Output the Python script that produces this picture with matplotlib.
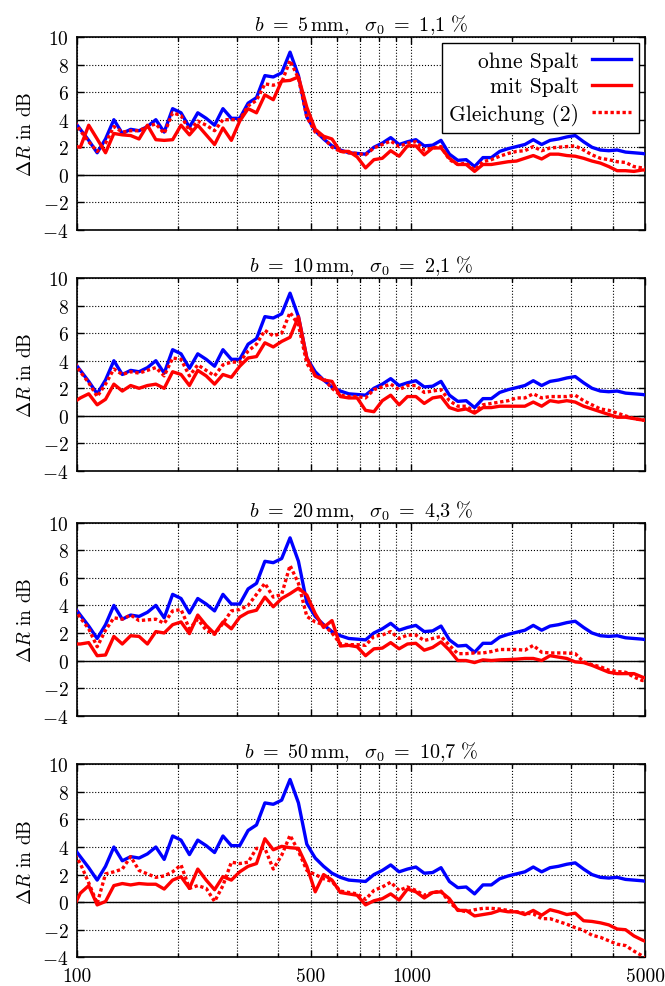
import numpy as np
import matplotlib
matplotlib.use('Agg')
import matplotlib.pyplot as plt
from matplotlib.ticker import FixedLocator, NullFormatter, FixedFormatter

plt.rcParams['font.family'] = 'serif'
plt.rcParams['font.serif'] = ['cmr10']
plt.rcParams['mathtext.fontset'] = 'cm'
plt.rcParams['axes.formatter.use_mathtext'] = True
plt.rcParams['font.size'] = 14

# 1/12-octave frequencies (Hz)
freq = [96.6, 102.3, 108.4, 114.9, 121.7, 128.9, 136.6, 144.7, 153.3, 162.4,
        172.1, 182.3, 193.2, 204.7, 216.9, 229.7, 243.4, 257.9, 273.2, 289.5,
        306.7, 324.9, 344.2, 364.7, 386.4, 409.4, 433.7, 459.5, 486.8, 515.8,
        546.4, 578.9, 613.3, 649.8, 688.4, 729.4, 772.8, 818.7, 867.4, 919.0,
        973.6, 1031.5, 1092.8, 1157.8, 1226.7, 1299.6, 1376.9, 1458.7, 1545.5, 1637.4,
        1734.8, 1837.9, 1947.2, 2063.0, 2185.7, 2315.6, 2453.3, 2599.2, 2753.8, 2917.5,
        3091.0, 3274.8, 3469.5, 3675.9, 3894.5, 4126.1, 4371.4, 4631.4, 4906.8, 5198.6]

ohne = [4.1, 3.3, 2.5, 1.6, 2.6, 4.0, 3.0, 3.3, 3.2, 3.5,
        4.0, 3.1, 4.8, 4.5, 3.45, 4.5, 4.1, 3.6, 4.8, 4.1,
        4.1, 5.2, 5.6, 7.2, 7.1, 7.4, 8.9, 7.2, 4.2, 3.2,
        2.6, 2.1, 1.8, 1.6, 1.55, 1.5, 2.0, 2.3, 2.7, 2.2,
        2.4, 2.55, 2.1, 2.15, 2.5, 1.5, 1.05, 1.1, 0.6, 1.25,
        1.25, 1.7, 1.9, 2.05, 2.2, 2.55, 2.2, 2.5, 2.6, 2.75,
        2.85, 2.4, 2.0, 1.8, 1.75, 1.8, 1.65, 1.6, 1.55, 1.45]

mit_5 = [2.1, 2.0, 3.6, 2.6, 1.6, 3.0, 2.9, 2.85, 2.6, 3.6,
         2.55, 2.5, 2.55, 3.6, 2.9, 3.6, 2.9, 2.2, 3.4, 2.5,
         3.9, 4.8, 4.5, 5.8, 5.45, 6.8, 6.85, 7.1, 4.9, 3.3,
         2.8, 2.6, 1.7, 1.7, 1.3, 0.5, 1.1, 1.2, 1.75, 1.35,
         2.1, 2.1, 1.45, 1.95, 1.95, 1.2, 0.75, 0.75, 0.25, 0.75,
         0.75, 0.85, 0.95, 1.0, 1.2, 1.4, 1.15, 1.5, 1.5, 1.4,
         1.35, 1.2, 1.0, 0.85, 0.6, 0.3, 0.3, 0.25, 0.35, 0.35]
gl_5 = [4.2, 3.2, 2.4, 1.7, 2.3, 3.5, 3.1, 3.2, 3.2, 3.5,
        3.7, 3.0, 4.5, 4.3, 3.2, 3.9, 3.6, 3.2, 4.0, 4.0,
        4.0, 5.0, 5.4, 6.6, 6.5, 6.7, 8.3, 7.0, 4.2, 3.1,
        2.7, 2.0, 1.7, 1.6, 1.55, 1.45, 1.95, 2.2, 2.45, 2.05,
        2.3, 2.4, 1.8, 1.95, 2.05, 1.1, 0.75, 0.85, 0.35, 0.95,
        1.1, 1.35, 1.55, 1.7, 1.75, 2.05, 1.75, 1.95, 2.0, 2.05,
        2.1, 1.8, 1.45, 1.2, 1.1, 0.95, 0.9, 0.6, 0.5, 0.5]

mit_10 = [0.9, 1.3, 1.6, 0.8, 1.2, 2.3, 1.8, 2.2, 2.0, 2.2,
          2.3, 2.0, 3.2, 3.0, 2.2, 3.3, 2.9, 2.3, 3.0, 2.8,
          3.6, 4.2, 4.3, 5.3, 5.0, 5.4, 5.7, 7.2, 4.2, 2.9,
          2.6, 2.5, 1.4, 1.3, 1.3, 0.4, 0.3, 1.1, 1.5, 0.8,
          1.4, 1.4, 0.9, 1.3, 1.4, 0.6, 0.4, 0.5, 0.2, 0.6,
          0.6, 0.7, 0.7, 0.7, 0.7, 1.0, 0.7, 1.1, 1.0, 1.1,
          1.0, 0.7, 0.5, 0.3, 0.1, -0.1, -0.1, -0.2, -0.3, -0.4]
gl_10 = [4.2, 3.2, 2.4, 1.4, 2.3, 3.4, 3.0, 3.2, 3.1, 3.3,
         3.5, 2.9, 4.2, 4.1, 2.9, 3.7, 3.3, 2.9, 3.7, 3.9,
         3.9, 4.7, 5.2, 6.2, 5.8, 6.0, 7.5, 6.6, 3.8, 2.9,
         2.7, 2.0, 1.5, 1.4, 1.4, 1.3, 1.9, 2.1, 2.3, 1.9,
         2.2, 2.2, 1.7, 1.8, 1.9, 1.1, 0.7, 0.7, 0.3, 0.8,
         0.9, 1.0, 1.1, 1.3, 1.3, 1.6, 1.3, 1.4, 1.4, 1.4,
         1.5, 1.1, 0.8, 0.5, 0.4, 0.2, 0.0, -0.2, -0.3, -0.3]

mit_20 = [1.2, 1.2, 1.3, 0.35, 0.4, 1.75, 1.2, 1.8, 1.75, 1.2,
          2.1, 2.0, 2.6, 2.8, 1.95, 3.3, 2.55, 1.95, 2.8, 2.3,
          3.15, 3.5, 3.65, 4.6, 3.9, 4.5, 4.85, 5.25, 4.75, 3.4,
          2.4, 2.9, 1.05, 1.1, 1.0, 0.35, 0.85, 0.9, 1.3, 0.85,
          1.2, 1.25, 0.75, 0.95, 1.35, 0.75, 0.0, 0.0, -0.15, 0.05,
          0.0, 0.05, 0.07, 0.1, 0.15, 0.15, 0.0, 0.35, 0.25, 0.15,
          -0.1, -0.15, -0.35, -0.6, -0.85, -0.95, -0.95, -0.95, -1.2, -1.4]
gl_20 = [4.1, 3.1, 2.3, 1.0, 2.2, 3.1, 3.0, 3.3, 2.9, 2.95,
         3.0, 2.7, 3.6, 3.7, 2.3, 3.0, 2.2, 1.9, 2.7, 3.6,
         3.7, 4.0, 4.8, 5.6, 4.6, 4.8, 6.9, 5.6, 3.2, 2.8,
         2.6, 2.0, 1.2, 1.15, 1.15, 1.1, 1.75, 1.85, 2.1, 1.6,
         1.85, 1.85, 1.45, 1.6, 1.75, 1.1, 0.5, 0.5, 0.55, 0.55,
         0.65, 0.8, 0.8, 0.8, 0.75, 1.1, 0.6, 0.55, 0.55, 0.55,
         0.5, -0.1, -0.3, -0.45, -0.7, -0.8, -0.85, -1.2, -1.45, -1.4]

mit_50 = [-0.6, 0.65, 1.2, -0.2, 0.05, 1.2, 1.35, 1.25, 1.35, 1.3,
          1.3, 0.95, 1.6, 1.85, 1.0, 2.4, 1.6, 0.9, 1.85, 1.6,
          2.2, 2.6, 2.8, 4.6, 3.8, 4.05, 3.95, 3.9, 2.6, 0.75,
          2.0, 1.6, 0.7, 0.6, 0.5, -0.2, 0.1, 0.25, 0.6, 0.15,
          0.95, 0.75, 0.3, 0.7, 0.75, 0.25, -0.6, -0.6, -1.0, -0.9,
          -0.8, -0.6, -0.7, -0.7, -0.9, -0.6, -0.95, -0.55, -0.7, -0.9,
          -0.8, -1.35, -1.4, -1.5, -1.65, -1.95, -2.0, -2.45, -2.75, -3.0]
gl_50 = [3.8, 2.8, 1.4, -0.1, 2.05, 2.2, 2.4, 3.3, 2.3, 2.05,
         1.8, 1.9, 2.2, 2.7, 1.0, 1.2, 1.0, 0.05, 1.2, 2.9,
         2.8, 2.9, 3.9, 3.9, 2.4, 3.4, 4.85, 3.7, 2.3, 2.0,
         1.7, 1.5, 0.8, 0.7, 0.6, 0.2, 0.85, 1.1, 1.45, 0.85,
         1.1, 0.85, 0.5, 0.7, 0.8, 0.0, -0.55, -0.7, -0.55, -0.45,
         -0.45, -0.5, -0.6, -0.7, -0.8, -0.85, -1.2, -1.2, -1.4, -1.6,
         -1.85, -2.05, -2.4, -2.55, -2.8, -3.05, -3.15, -3.55, -3.9, -4.3]

titles = [r'$b\ =\ 5\,\mathrm{mm},\ \ \sigma_0\ =\ 1{,}1\ \%$',
          r'$b\ =\ 10\,\mathrm{mm},\ \ \sigma_0\ =\ 2{,}1\ \%$',
          r'$b\ =\ 20\,\mathrm{mm},\ \ \sigma_0\ =\ 4{,}3\ \%$',
          r'$b\ =\ 50\,\mathrm{mm},\ \ \sigma_0\ =\ 10{,}7\ \%$']
mit_list = [mit_5, mit_10, mit_20, mit_50]
gl_list = [gl_5, gl_10, gl_20, gl_50]

fig = plt.figure(figsize=(6.65, 9.87), dpi=100)
bottoms = [0.766, 0.5218, 0.2739, 0.0291]

for i in range(4):
    ax = fig.add_axes([0.1158, bottoms[i], 0.8542, 0.1955])
    ax.axhline(0, color='k', lw=1.0, zorder=1)
    ax.plot(freq, ohne, color='#0000ff', lw=2.4, label='ohne Spalt', zorder=3)
    ax.plot(freq, mit_list[i], color='#ff0000', lw=2.4, label='mit Spalt', zorder=4)
    ax.plot(freq, gl_list[i], color='#ff0000', lw=2.4, ls=(0, (1.0, 0.8)),
            label='Gleichung (2)', zorder=4)
    ax.set_xscale('log')
    ax.set_xlim(100, 5000)
    ax.set_ylim(-4, 10)
    ax.xaxis.set_major_locator(FixedLocator([100, 500, 1000, 5000]))
    ax.xaxis.set_minor_locator(FixedLocator([200, 300, 400, 600, 700, 800, 900,
                                             2000, 3000, 4000]))
    ax.xaxis.set_minor_formatter(NullFormatter())
    if i == 3:
        ax.xaxis.set_major_formatter(FixedFormatter(['100', '500', '1000', '5000']))
    else:
        ax.xaxis.set_major_formatter(NullFormatter())
    ax.set_yticks(np.arange(-4, 11, 2))
    ax.tick_params(which='both', direction='in', top=True, right=True, width=1.0,
                   labelsize=14)
    ax.tick_params(axis='x', pad=7)
    ax.tick_params(axis='y', pad=6)
    ax.tick_params(which='major', length=5)
    ax.tick_params(which='minor', length=3)
    ax.grid(True, which='both', ls=':', color='k', lw=0.8)
    for s in ax.spines.values():
        s.set_linewidth(1.2)
    ax.set_title(titles[i], fontsize=14.5, pad=5)
    ax.set_ylabel(r'$\Delta R$ in dB', fontsize=14, labelpad=5)
    if i == 0:
        leg = ax.legend(loc='upper right', markerfirst=False, fancybox=False,
                        framealpha=1, edgecolor='k', fontsize=15.5,
                        handlelength=1.8, borderaxespad=0.3, labelspacing=0.3,
                        borderpad=0.35, handletextpad=0.6)
        leg.get_frame().set_linewidth(1.0)

fig.savefig('out.png', dpi=100)
